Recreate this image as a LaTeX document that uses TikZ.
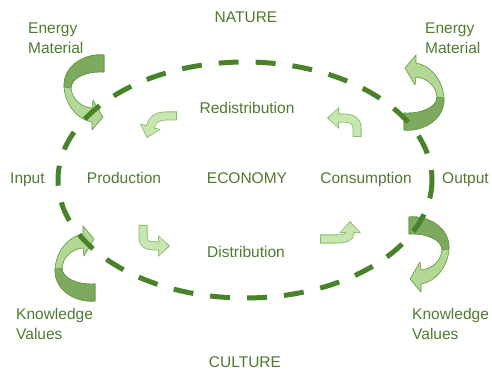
\documentclass[tikz,border=0pt]{standalone}
\usepackage{fontspec}
\setmainfont{Liberation Sans}
\usetikzlibrary{arrows.meta}
\definecolor{leafdeep}{RGB}{125,170,95}
\definecolor{leafpale}{RGB}{178,216,148}
\definecolor{leafline}{RGB}{100,148,72}
\definecolor{ringgreen}{RGB}{72,130,42}
\definecolor{textgreen}{RGB}{78,122,46}
\definecolor{turnpale}{RGB}{200,230,176}
\definecolor{turnline}{RGB}{135,185,105}
\tikzset{%
  txt/.style      = {font=\fontsize{15.5}{20}\selectfont, text=textgreen, inner sep=0pt},%
  pair/.style     = {txt, align=left, anchor=base west},%
  bigpale/.style  = {fill=leafpale, draw=leafline, line width=0.6pt, line join=round},%
  bigdeep/.style  = {fill=leafdeep, draw=leafline, line width=0.6pt, line join=round},%
  ring/.style     = {draw=ringgreen, line width=5pt, dash pattern=on 20pt off 17pt, dash phase=10pt},%
  turnedge/.style = {draw=turnline, line width=9pt, -{Triangle[width=21pt,length=12pt]}},%
  turnbody/.style = {draw=turnpale, line width=7.4pt, shorten <=0.8pt, shorten >=1.5pt,%
                     -{Triangle[width=18pt,length=9.6pt]}}%
}
\begin{document}
\begin{tikzpicture}[x=1pt,y=-1pt]
	\useasboundingbox (0,0) rectangle (492,371);
	% big turning arrows in the four corners
	\foreach \cx/\cy/\sx/\sy in {84/93/1/1, 424/92/-1/-1, 75/263/1/-1, 429/255/-1/1}{
		\begin{scope}[shift={(\cx,\cy)}, xscale=\sx, yscale=\sy]
			\filldraw[bigpale] (20,-38) .. controls (2,-40) and (-21,-28) .. (-20,-6)
				.. controls (-19,12) and (-6,27) .. (8,29) -- (8,37) -- (19,24) -- (9,7) -- (8,15)
				.. controls (-3,14) and (-12,6) .. (-13,-5)
				.. controls (-13,-15) and (2,-22) .. (20,-21) -- cycle;
			\filldraw[bigdeep] (20,-38) .. controls (2,-40) and (-21,-28) .. (-20,-6)
				-- (-13,-5) .. controls (-13,-15) and (2,-22) .. (20,-21) -- cycle;
		\end{scope}
	}
	% dashed ring
	\draw[ring] (245,180) ellipse [x radius=187pt, y radius=118pt];
	% small turns inside
	\coordinate (redin)  at (177,116);
	\coordinate (redout) at (357,137);
	\coordinate (disin)  at (143,225);
	\coordinate (disout) at (320,239);
	\foreach \s in {turnedge,turnbody}{
		\draw[\s] (redin) -- (166,116) .. controls (157,116) and (152,120) .. (150,127) -- (147,138);
		\draw[\s] (redout) -- (357,128) .. controls (357,121) and (353,118) .. (341,118) -- (327,118);
		\draw[\s] (disin) -- (143,237) .. controls (143,244) and (147,246) .. (157,246) -- (170,246);
		\draw[\s] (disout) -- (336,239) .. controls (345,239) and (350,237) .. (350,233) -- (350,221);
	}
	% labels
	\node[txt, anchor=base] (nature) at (246,22.5) {NATURE};
	\node[txt, anchor=base] (culture) at (245,367) {CULTURE};
	\node[pair] (energyl) at (28,53.5) {Energy\\Material};
	\node[pair] (energyr) at (425,53.5) {Energy\\Material};
	\node[pair] (knowl) at (16,339.5) {Knowledge\\Values};
	\node[pair] (knowr) at (412,339.5) {Knowledge\\Values};
	\node[txt, anchor=base west] (input) at (10,184) {Input};
	\node[txt, anchor=base] (prod) at (124,184) {Production};
	\node[txt, anchor=base] (econ) at (247,184) {ECONOMY};
	\node[txt, anchor=base] (cons) at (366,184) {Consumption};
	\node[txt, anchor=base west] (output) at (442,184) {Output};
	\node[txt, anchor=base] (redis) at (247,114) {Redistribution};
	\node[txt, anchor=base] (distr) at (246,257) {Distribution};
\end{tikzpicture}
\end{document}
